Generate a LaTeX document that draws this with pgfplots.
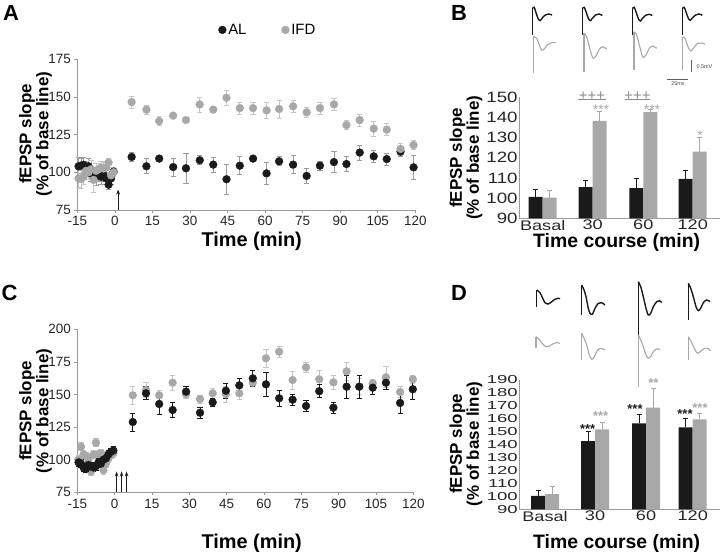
\documentclass[border=0pt]{standalone}
\usepackage{fontspec}
\setmainfont{Liberation Sans}
\usepackage{graphicx}
\usepackage{pgfplots}
\usepackage{pgfplotstable}
\pgfplotsset{compat=1.18}
\usetikzlibrary{arrows.meta}

\definecolor{alc}{HTML}{1A1A1A}
\definecolor{ifdc}{HTML}{A8A8A8}
\definecolor{axc}{HTML}{9A9A9A}
\definecolor{errA}{HTML}{9C9C9C}
\definecolor{errI}{HTML}{C6C6C6}
\definecolor{annc}{HTML}{8C8C8C}

\newcommand\tickfont{\fontsize{13.5}{14}\selectfont}
\newcommand\labfont{\fontsize{17}{12.8}\selectfont\bfseries}
\newcommand\xlabfont{\fontsize{20}{22}\selectfont\bfseries}

% panel A: time course, single train
\pgfplotstableread{
t v e
-14.5 104 6
-13.5 104.5 5
-12.5 105 5
-11.5 103 4
-10.5 104 5
-9.5 99 5
-8.5 98 4
-7.5 97.5 6
-6.5 98 4
-5.5 97 5
-4.5 98 4
-3.5 96 4
-2.5 91.8 3
-1.5 96 4
-0.5 100.5 3
6.7 110.2 3
12.6 104 5
17.7 109.1 2
23.3 103.5 6
28.4 102.7 10
33.9 108 3
39.3 105.1 5
44.6 95.4 10
49.9 104.4 6
55.2 109.1 1
60.6 99.3 7
65.6 107.3 3
71.2 105.1 6
76.6 97.6 5
81.9 104.4 3
87.5 106.8 7
92.5 105.5 5
97.8 113.1 5
103.4 110.6 4
108.6 108.8 4
114.1 113.7 3
119.3 103.3 8
}\ALa
\pgfplotstableread{
t v e
-14.5 96 6
-13.5 95.5 6
-12.5 97 5
-11.5 101 6
-10.5 100 5
-9.5 102 6
-8.5 95 8
-7.5 101 5
-6.5 102 4
-5.5 103 4
-4.5 102.5 4
-3.5 103 4
-2.5 106.5 3
-1.5 98 4
-0.5 100 3
6.7 146.6 4
12.6 141.6 3
17.7 134 3
23.3 137.6 1
28.4 134.7 1
33.9 145 5
39.3 141.6 2
44.6 149.5 5
49.9 142.6 4
55.2 142.6 4
60.6 141.1 5
65.6 142 6
71.2 143.8 4
76.6 139.8 3
81.9 142.6 4
87.5 145.1 4
92.5 131.4 3
97.8 134.7 4
103.4 129 5
108.6 128.3 4
114.1 115.5 4
119.3 118.1 3
}\IFDa

% panel C: time course, three trains
\pgfplotstableread{
t v e
-14.5 98 3
-13.5 97 3
-12.5 94 3
-11.5 93 3
-10.5 96 3
-9.5 95 3
-8.5 94 3
-7.5 95 3
-6.5 98 3
-5.5 97 3
-4.5 100 3
-3.5 101 3
-2.5 104 3
-1.5 106 3
-0.5 107 3
7.3 128.9 7
12.6 150.9 5
17.9 142.7 8
23.3 138.1 6
28.7 152.2 4
34.3 136 4
39.4 144 3
44.7 152.9 6
50.1 157 5
55.5 162.4 6
60.8 157.8 9
66.1 147.1 6
71.5 146 4
76.9 141.2 4
82.2 152.5 5
87.9 139.9 4
93.2 156 9
98.3 156 9
103.7 155.2 5
109 159 5
114.7 143.5 8
119.8 154 8
}\ALc
\pgfplotstableread{
t v e
-14.5 100 3
-13.5 110 3
-12.5 104 3
-11.5 103 3
-10.5 100 3
-9.5 91 3
-8.5 104 3
-7.5 113 3
-6.5 104 3
-5.5 105 3
-4.5 92 3
-3.5 97 3
-2.5 101 3
-1.5 104 3
-0.5 105 3
7.3 149.4 7
12.6 153.5 6
17.9 149.4 4
23.3 159 6
28.7 150.2 3
34.3 146.5 3
39.4 150.9 4
44.7 150.2 6
50.1 150.9 5
55.5 159 3
60.8 177.8 7
66.1 182.8 4
71.5 161.1 7
76.9 170.8 4
82.2 161.7 7
87.9 159.3 5
93.2 167.8 7
98.3 156 6
103.7 158.6 3
109 163.2 8
114.7 151.9 4
119.8 161.7 3
}\IFDc

% bar summaries (x = position of the pair)
\pgfplotstableread{
x v e
542.7 100.6 3.8
592.7 105.5 3.5
643.3 105 4.8
692.7 109.5 4.5
}\ALb
\pgfplotstableread{
x v e
542.7 100.3 3.4
592.7 138.3 5
643.3 142.6 1.3
692.7 123 7.2
}\IFDb
\pgfplotstableread{
x v e
545 100.3 4.1
595 142.8 7.8
646 156.5 7
692.7 153.4 7
}\ALd
\pgfplotstableread{
x v e
545 101.8 6.2
595 151.8 5.2
646 168.6 15
692.7 159.6 5.1
}\IFDd

\pgfplotsset{
  panel/.style={scale only axis, anchor=south west, clip=false,
    axis x line*=bottom, axis y line*=left,
    axis line style={axc, line width=0.8bp, -},
    tick style={axc, line width=0.7bp}, major tick length=3bp, tick align=outside,
    tick label style={font=\tickfont, text=black!85},
    /pgf/number format/assume math mode=true},
  dots/.style={only marks, mark=*, mark size=3.9bp, color=#1},
  errs/.style={error bars/.cd, y dir=both, y explicit,
    error bar style={#1, line width=0.7bp},
    error mark options={rotate=90, mark size=2.6bp, #1, line width=0.7bp}},
  barpanel/.style={panel, ybar=0pt, bar width=14bp, major tick length=0bp,
    xtick={542.7,592.7,643.3,692.7},
    xticklabels={\scalebox{1.3}[1]{Basal},\scalebox{1.3}[1]{30},\scalebox{1.3}[1]{60},\scalebox{1.3}[1]{120}},
    xticklabel style={font=\fontsize{14}{15}\selectfont, inner ysep=1.5bp},
    yticklabel style={inner xsep=1.5bp}},
  trace/.style={scale only axis, anchor=south west, hide axis, clip=false, y dir=reverse},
}

\begin{document}
\begin{tikzpicture}[x=1bp,y=1bp]
\path[use as bounding box] (0,0) rectangle (720,552);

% ---------- A ----------
\begin{axis}[panel, at={(77.3bp,342bp)}, width=338bp, height=150.7bp,
  xmin=-15, xmax=120, ymin=75, ymax=175,
  xtick={-15,0,...,120}, ytick={75,100,...,175},
  legend style={draw=none, fill=none, at={(rel axis cs:0.564,1.195)}, anchor=center,
    font=\fontsize{15}{16}\selectfont, legend columns=2,
    /tikz/every even column/.append style={column sep=33bp}},
  legend image code/.code={\draw[mark repeat=2,mark phase=2,#1] plot coordinates {(-3bp,0bp)(0bp,0bp)(3bp,0bp)};}]
\addplot[dots=alc, errs=errA] table[x=t, y=v, y error=e] {\ALa};
\addlegendentry{AL}
\addplot[dots=ifdc, errs=errI] table[x=t, y=v, y error=e] {\IFDa};
\addlegendentry{IFD}
\draw[alc, line width=0.9bp, -{Stealth[length=5bp,width=4bp]}] (axis cs:1.3,75) -- (axis cs:1.3,88.5);
\end{axis}

% ---------- C ----------
\begin{axis}[panel, at={(77.3bp,59.7bp)}, width=336bp, height=163bp,
  xmin=-15, xmax=120, ymin=75, ymax=200,
  xtick={-15,0,...,120}, ytick={75,100,...,200}]
\addplot[dots=ifdc, errs=errI] table[x=t, y=v, y error=e] {\IFDc};
\addplot[dots=alc, errs=alc] table[x=t, y=v, y error=e] {\ALc};
\foreach \a in {0.8,2.8,4.8}{
  \edef\tmp{\noexpand\draw[alc, line width=0.9bp, -{Stealth[length=5bp,width=3.5bp]}] (axis cs:\a,75) -- (axis cs:\a,91);}\tmp}
\end{axis}

% ---------- B ----------
\begin{axis}[barpanel, at={(519.3bp,333.7bp)}, width=200.7bp, height=121bp,
  xmin=519.3, xmax=720, ymin=90, ymax=150, ytick={90,100,...,150},
  yticklabel={\scalebox{1.25}[1]{\fontsize{15}{16}\selectfont\pgfmathprintnumber{\tick}}}]
\addplot[fill=alc, draw=none, error bars/.cd, y dir=plus, y explicit,
  error bar style={alc, line width=0.7bp}, error mark options={rotate=90, mark size=2.5bp, alc}]
  table[x=x, y=v, y error=e] {\ALb};
\addplot[fill=ifdc, draw=none, error bars/.cd, y dir=plus, y explicit,
  error bar style={ifdc, line width=0.7bp}, error mark options={rotate=90, mark size=2.5bp, ifdc}]
  table[x=x, y=v, y error=e] {\IFDb};
\node[anchor=base, text=ifdc, font=\fontsize{14}{14}\selectfont] at (axis cs:601,141.3) {***};
\node[anchor=base, text=ifdc, font=\fontsize{14}{14}\selectfont] at (axis cs:652,141.6) {***};
\node[anchor=base, text=ifdc, font=\fontsize{14}{14}\selectfont] at (axis cs:700,128.5) {*};
\node[anchor=base, text=annc, font=\fontsize{15}{15}\selectfont] at (axis cs:592,148.3) {+++};
\node[anchor=base, text=annc, font=\fontsize{15}{15}\selectfont] at (axis cs:637.5,148.3) {+++};
\draw[annc, line width=0.8bp] (axis cs:578,149) -- (axis cs:606,149);
\draw[annc, line width=0.8bp] (axis cs:625,149) -- (axis cs:650,149);
\end{axis}

% ---------- D ----------
\begin{axis}[barpanel, at={(519.3bp,42.7bp)}, width=200.7bp, height=129.3bp,
  xmin=519.3, xmax=720, ymin=90, ymax=190, ytick={90,100,...,190},
  xtick={545,595,646,692.7},
  yticklabel={\scalebox{1.6}[1]{\fontsize{11.6}{12}\selectfont\pgfmathprintnumber{\tick}}}]
\addplot[fill=alc, draw=none, error bars/.cd, y dir=plus, y explicit,
  error bar style={alc, line width=0.7bp}, error mark options={rotate=90, mark size=2.5bp, alc}]
  table[x=x, y=v, y error=e] {\ALd};
\addplot[fill=ifdc, draw=none, error bars/.cd, y dir=plus, y explicit,
  error bar style={ifdc, line width=0.7bp}, error mark options={rotate=90, mark size=2.5bp, ifdc}]
  table[x=x, y=v, y error=e] {\IFDd};
\node[anchor=base, text=alc, font=\fontsize{13}{13}\selectfont\bfseries] at (axis cs:587.7,148.9) {***};
\node[anchor=base, text=ifdc, font=\fontsize{13}{13}\selectfont\bfseries] at (axis cs:600.7,158.4) {***};
\node[anchor=base, text=alc, font=\fontsize{13}{13}\selectfont\bfseries] at (axis cs:635,164.1) {***};
\node[anchor=base, text=ifdc, font=\fontsize{13}{13}\selectfont\bfseries] at (axis cs:653.3,184.2) {**};
\node[anchor=base, text=alc, font=\fontsize{13}{13}\selectfont\bfseries] at (axis cs:685,160.2) {***};
\node[anchor=base, text=ifdc, font=\fontsize{13}{13}\selectfont\bfseries] at (axis cs:700,164.8) {***};
\end{axis}

% ---------- traces above B ----------
\begin{axis}[trace, at={(500bp,462bp)}, width=220bp, height=90bp,
  xmin=500, xmax=720, ymin=0, ymax=90]
% black (AL)
\addplot[alc, line width=1.4bp] coordinates {(532.7,35) (532.7,8.3)};
\addplot[alc, line width=1.4bp, smooth] coordinates {(532.7,8.3) (534.2,7.3) (535.7,11.7) (538,18.3) (540,20.7) (542,18.3) (545.3,15) (548.7,14) (552,15)};
\addplot[alc, line width=1.4bp] coordinates {(582.7,35) (582.7,8.3)};
\addplot[alc, line width=1.4bp, smooth] coordinates {(582.7,8.3) (584.2,7.3) (586,11.7) (588.3,18.3) (590.3,20.7) (592.3,18.3) (595.7,15) (599,14) (602.3,15.5)};
\addplot[alc, line width=1.4bp] coordinates {(632.7,35) (632.7,8.3)};
\addplot[alc, line width=1.4bp, smooth] coordinates {(632.7,8.3) (634.2,7.3) (636,12) (638.3,18.5) (640.3,21) (642.3,18.5) (645.7,15.3) (649,14.3) (652.3,15.5)};
\addplot[alc, line width=1.4bp] coordinates {(682.7,35) (682.7,8.3)};
\addplot[alc, line width=1.4bp, smooth] coordinates {(682.7,8.3) (684.2,7.3) (686,12) (688.3,18.3) (690.3,20.3) (692.3,18) (695.7,15) (699,14) (702.3,15.3)};
% grey (IFD)
\addplot[ifdc, line width=1.1bp] coordinates {(533.3,72.7) (533.3,36.7)};
\addplot[ifdc, line width=1.1bp, smooth] coordinates {(533.3,36.7) (536.7,38.3) (539.3,45) (541.7,50) (544,49.3) (547.3,45) (551.7,42.7) (556,42.7)};
\addplot[ifdc, line width=1.1bp] coordinates {(584,71.7) (584,33.3)};
\addplot[ifdc, line width=1.1bp, smooth] coordinates {(584,33.3) (586.7,36.7) (589.3,46.7) (591.7,55) (593.3,58.3) (596,56) (599.3,49.3) (602.7,46.7) (606.7,49.3)};
\addplot[ifdc, line width=1.1bp] coordinates {(634,70) (634,31.7)};
\addplot[ifdc, line width=1.1bp, smooth] coordinates {(634,31.7) (636.7,35) (639.3,45) (641.7,54) (643.3,57.5) (646,55) (649.3,48.3) (652.7,46) (656.7,48.3)};
\addplot[ifdc, line width=1.1bp] coordinates {(682.7,70) (682.7,36.7)};
\addplot[ifdc, line width=1.1bp, smooth] coordinates {(682.7,36.7) (685,38.3) (687.3,45) (690,50.7) (692.3,50) (695,46) (698.3,43.3) (702.7,43.3) (705,44.3)};
% scale bars
\addplot[alc!70, line width=0.6bp] coordinates {(691.7,60) (691.7,72)};
\addplot[alc!70, line width=0.6bp] coordinates {(666.7,79) (688.3,79)};
\node[anchor=west, font=\fontsize{5.5}{6}\selectfont, text=alc!80] at (axis cs:693,66.5) {0.5mV};
\node[font=\fontsize{5.5}{6}\selectfont, text=alc!80] at (axis cs:678,83.5) {25ms};
\end{axis}

% ---------- traces above D ----------
\begin{axis}[trace, at={(500bp,157bp)}, width=220bp, height=120bp,
  xmin=500, xmax=720, ymin=275, ymax=395]
\addplot[alc, line width=1.4bp] coordinates {(536.7,306.7) (536.7,290)};
\addplot[alc, line width=1.4bp, smooth] coordinates {(536.7,290) (540,292.7) (542.7,298.3) (545,302.7) (548.3,304) (551.7,301.7) (555,299.3) (558.3,298.3) (560,298.7)};
\addplot[alc, line width=1.4bp] coordinates {(581.7,315) (581.7,285)};
\addplot[alc, line width=1.4bp, smooth] coordinates {(581.7,285) (584,290) (586,296.7) (588.3,308.3) (590,313.3) (592.3,314.3) (595,308.3) (598.3,303.3) (601.7,302.7) (605,305)};
\addplot[alc, line width=1.4bp] coordinates {(638.3,360) (638.3,281.7)};
\addplot[alc, line width=1.4bp, smooth] coordinates {(638.3,281.7) (640.7,286.7) (643.3,296.7) (646,308.3) (648.3,315) (650.7,313.3) (653.3,306.7) (656.7,301.7) (659.3,300.7) (661.7,302.7)};
\addplot[alc, line width=1.4bp] coordinates {(688.3,320) (688.3,283.3)};
\addplot[alc, line width=1.4bp, smooth] coordinates {(688.3,283.3) (690.7,288.3) (693.3,296.7) (696,306.7) (698.3,310.7) (700.7,308.3) (703.3,302.7) (706.7,300) (710,301.7)};
\addplot[ifdc, line width=1.1bp] coordinates {(536,348.3) (536,336.7)};
\addplot[ifdc, line width=1.1bp, smooth] coordinates {(536,336.7) (539.3,339.3) (542.7,344) (546,346.7) (549.3,346) (552.7,344) (556.7,342.7) (560,343.3)};
\addplot[ifdc, line width=1.1bp] coordinates {(581.7,360) (581.7,333.3)};
\addplot[ifdc, line width=1.1bp, smooth] coordinates {(581.7,333.3) (584,338.3) (586.7,345) (589.3,355) (591.7,359.3) (594,357.3) (597.3,350.7) (600.7,348.3) (605,350)};
\addplot[ifdc, line width=1.1bp] coordinates {(638.3,386.7) (638.3,335)};
\addplot[ifdc, line width=1.1bp, smooth] coordinates {(638.3,335) (640.7,340) (643.3,346.7) (646,355) (648.3,358.3) (651,356) (654,350.7) (657.3,348.7) (660,350)};
\addplot[ifdc, line width=1.1bp] coordinates {(688.3,360) (688.3,336.7)};
\addplot[ifdc, line width=1.1bp, smooth] coordinates {(688.3,336.7) (690.7,340.7) (693.3,346) (696,351.7) (698.3,353.3) (701.3,350.7) (705,348.3) (708.3,348.7) (710.7,350.7)};
\end{axis}

% ---------- labels ----------
\node[rotate=90, align=center, inner sep=0pt, font=\labfont] at (35.5,418) {fEPSP slope\\(\% of base line)};
\node[rotate=90, align=center, inner sep=0pt, font=\labfont] at (466,394.2) {fEPSP slope\\(\% of base line)};
\node[rotate=90, align=center, inner sep=0pt, font=\labfont] at (35.5,141) {fEPSP slope\\(\% of base line)};
\node[rotate=90, align=center, inner sep=0pt, font=\labfont] at (466,108) {fEPSP slope\\(\% of base line)};
\node[inner sep=0pt, font=\xlabfont] at (251.7,311) {Time (min)};
\node[inner sep=0pt, font=\xlabfont] at (251.7,8.7) {Time (min)};
\node[inner sep=0pt, font=\fontsize{19.5}{21}\selectfont\bfseries] at (616.7,309.5) {Time course (min)};
\node[inner sep=0pt, font=\fontsize{19.5}{21}\selectfont\bfseries] at (616.7,8.7) {Time course (min)};
\node[font=\fontsize{22}{22}\selectfont\bfseries] at (11,539.5) {A};
\node[font=\fontsize{22}{22}\selectfont\bfseries] at (459,539.5) {B};
\node[font=\fontsize{22}{22}\selectfont\bfseries] at (9.5,259.5) {C};
\node[font=\fontsize{22}{22}\selectfont\bfseries] at (459,259.5) {D};
\end{tikzpicture}
\end{document}
